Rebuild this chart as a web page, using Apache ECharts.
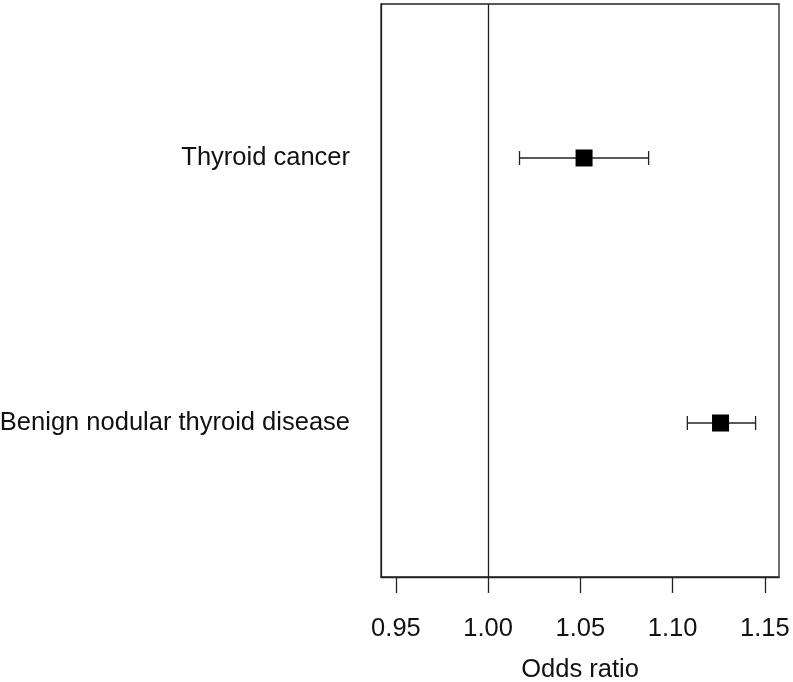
<!DOCTYPE html>
<html>
<head>
<meta charset="utf-8">
<script src="https://cdn.jsdelivr.net/npm/echarts@6/dist/echarts.min.js"></script>
<style>
html, body { margin: 0; padding: 0; background: #fff; }
#chart { width: 793px; height: 682px; }
</style>
</head>
<body>
<div id="chart"></div>
<script>
// outcomes, bottom to top
var outcomes = ["Benign nodular thyroid disease", "Thyroid cancer"];
var rowPos = [1, 2];
var oddsRatio = [1.126, 1.052];
var lowerCI = [1.108, 1.017];
var upperCI = [1.145, 1.087];
var xTicks = [0.95, 1.00, 1.05, 1.10, 1.15];
var refValue = 1.00;

var fontFam = "'Liberation Sans', Arial, Helvetica, sans-serif";

var rows = [];
for (var i = 0; i < outcomes.length; i++) {
	rows.push([oddsRatio[i], rowPos[i], lowerCI[i], upperCI[i]]);
}

function drawRow(params, api) {
	var mid = api.coord([api.value(0), api.value(1)]);
	var lo = api.coord([api.value(2), api.value(1)]);
	var hi = api.coord([api.value(3), api.value(1)]);
	var cap = 7, half = 8.5;
	var ln = { stroke: "#222", lineWidth: 1.3 };
	return {
		type: "group",
		children: [
			{ type: "line", shape: { x1: lo[0], y1: lo[1], x2: hi[0], y2: hi[1] }, style: ln },
			{ type: "line", shape: { x1: lo[0], y1: lo[1] - cap, x2: lo[0], y2: lo[1] + cap }, style: ln },
			{ type: "line", shape: { x1: hi[0], y1: hi[1] - cap, x2: hi[0], y2: hi[1] + cap }, style: ln },
			{ type: "rect", shape: { x: mid[0] - half, y: mid[1] - half, width: half * 2, height: half * 2 }, style: { fill: "#000" } }
		]
	};
}

var myChart = echarts.init(document.getElementById("chart"));
myChart.setOption({
	animation: false,
	grid: {
		left: 381, right: 14, top: 4, bottom: 105,
		outerBoundsMode: "none",
		containLabel: false,
		show: true,
		borderColor: "#222",
		borderWidth: 1.3
	},
	xAxis: {
		type: "value",
		min: 0.9419,
		max: 1.1577,
		name: "Odds ratio",
		nameLocation: "middle",
		nameGap: 80,
		nameTextStyle: { fontFamily: fontFam, fontSize: 25.5, color: "#111" },
		axisLine: { show: true, lineStyle: { color: "#222", width: 1.3 } },
		axisTick: { show: true, inside: false, length: 16, customValues: xTicks, lineStyle: { color: "#222", width: 1.3 } },
		axisLabel: {
			customValues: xTicks,
			margin: 39,
			fontFamily: fontFam,
			fontSize: 25.5,
			color: "#111",
			formatter: function (v) { return v.toFixed(2); }
		},
		splitLine: { show: false }
	},
	yAxis: {
		type: "value",
		min: 0.419,
		max: 2.581,
		axisLine: { show: true, lineStyle: { color: "#222", width: 1.3 } },
		axisTick: { show: false },
		axisLabel: {
			customValues: rowPos,
			margin: 31,
			padding: [6, 0, 0, 0],
			fontFamily: fontFam,
			fontSize: 25.5,
			color: "#111",
			formatter: function (v) {
				var k = rowPos.indexOf(Math.round(v));
				return k >= 0 ? outcomes[k] : "";
			}
		},
		splitLine: { show: false }
	},
	series: [{
		type: "custom",
		renderItem: drawRow,
		data: rows,
		clip: false,
		markLine: {
			silent: true,
			symbol: "none",
			label: { show: false },
			lineStyle: { color: "#222", width: 1.3, type: "solid" },
			data: [{ xAxis: refValue }]
		}
	}]
});
</script>
</body>
</html>
